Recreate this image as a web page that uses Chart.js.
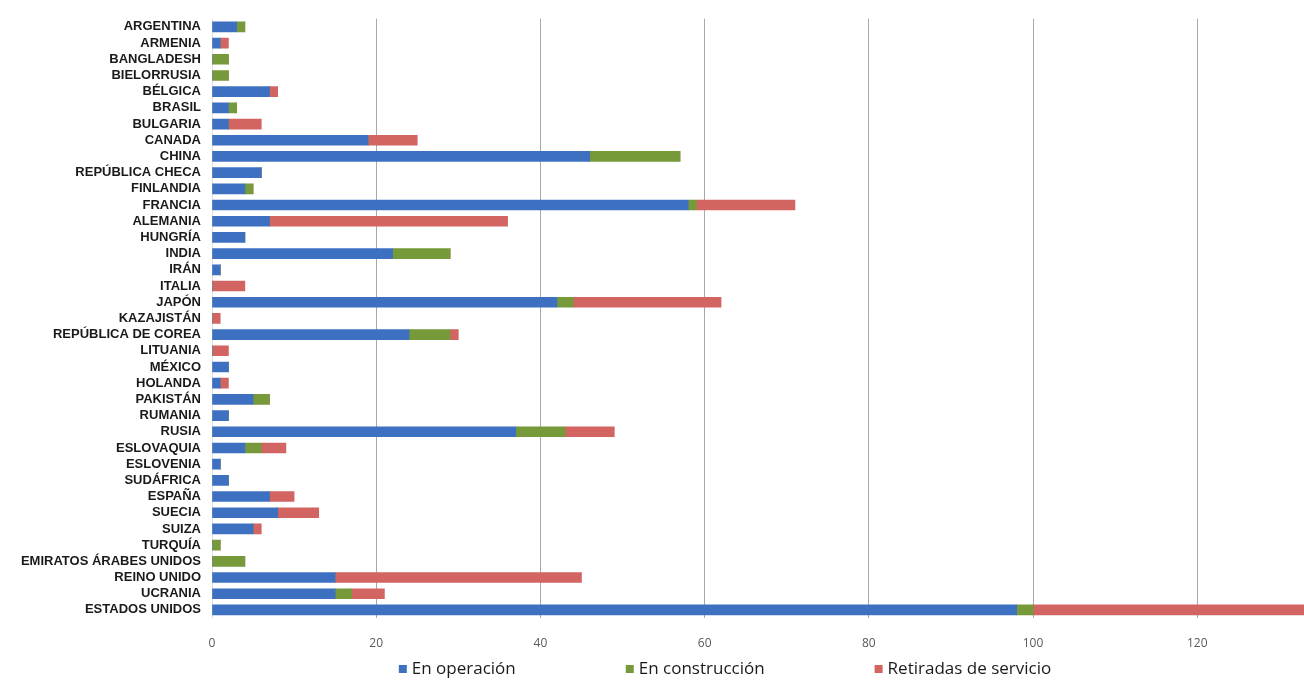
<!DOCTYPE html>
<html>
<head>
<meta charset="utf-8">
<script src="https://cdn.jsdelivr.net/npm/chart.js@4"></script>
<style>
  html, body { margin: 0; padding: 0; background: #fff; }
  #wrap { width: 1304px; height: 681px; }
</style>
</head>
<body>
<div id="wrap"><canvas id="reactores"></canvas></div>
<script>
const paises = [
  "ARGENTINA", "ARMENIA", "BANGLADESH", "BIELORRUSIA", "BÉLGICA", "BRASIL",
  "BULGARIA", "CANADA", "CHINA", "REPÚBLICA CHECA", "FINLANDIA", "FRANCIA",
  "ALEMANIA", "HUNGRÍA", "INDIA", "IRÁN", "ITALIA", "JAPÓN", "KAZAJISTÁN",
  "REPÚBLICA DE COREA", "LITUANIA", "MÉXICO", "HOLANDA", "PAKISTÁN", "RUMANIA",
  "RUSIA", "ESLOVAQUIA", "ESLOVENIA", "SUDÁFRICA", "ESPAÑA", "SUECIA", "SUIZA",
  "TURQUÍA", "EMIRATOS ÁRABES UNIDOS", "REINO UNIDO", "UCRANIA", "ESTADOS UNIDOS",
];

const enOperacion = [
  3, 1, 0, 0, 7, 2, 2, 19, 46, 6, 4, 58, 7, 4, 22, 1, 0, 42, 0,
  24, 0, 2, 1, 5, 2, 37, 4, 1, 2, 7, 8, 5, 0, 0, 15, 15, 98,
];

const enConstruccion = [
  1, 0, 2, 2, 0, 1, 0, 0, 11, 0, 1, 1, 0, 0, 7, 0, 0, 2, 0,
  5, 0, 0, 0, 2, 0, 6, 2, 0, 0, 0, 0, 0, 1, 4, 0, 2, 2,
];

const retiradas = [
  0, 1, 0, 0, 1, 0, 4, 6, 0, 0, 0, 12, 29, 0, 0, 0, 4, 18, 1,
  1, 2, 0, 1, 0, 0, 6, 3, 0, 0, 3, 5, 1, 0, 0, 30, 4, 34,
];

const ejeX = [0, 20, 40, 60, 80, 100, 120];

// legend drawn under the axis, same look as the spreadsheet one
const leyendaAbajo = {
  id: "leyendaAbajo",
  afterDraw(chart) {
    const ctx = chart.ctx;
    const sets = chart.data.datasets;
    const box = 8;
    const gapText = 5;
    const gapItem = 110;

    ctx.save();
    ctx.font = '17px "Open Sans"';
    ctx.textBaseline = "middle";
    const widths = sets.map(
      (d) => box + gapText + ctx.measureText(d.label).width
    );
    const total =
      widths.reduce((a, b) => a + b, 0) + gapItem * (sets.length - 1);
    let x = 725 - total / 2;
    const y = chart.height - 12;

    sets.forEach((d, i) => {
      ctx.fillStyle = d.backgroundColor;
      ctx.fillRect(x, y - box / 2, box, box);
      ctx.fillStyle = "#1a1a1a";
      ctx.fillText(d.label, x + box + gapText, y);
      x += widths[i] + gapItem;
    });
    ctx.restore();
  },
};

const ctx = document.getElementById("reactores").getContext("2d");

new Chart(ctx, {
  type: "bar",
  data: {
    labels: paises,
    datasets: [
      {
        label: "En operación",
        data: enOperacion,
        backgroundColor: "#3e70c2",
      },
      {
        label: "En construcción",
        data: enConstruccion,
        backgroundColor: "#76993a",
      },
      {
        label: "Retiradas de servicio",
        data: retiradas,
        backgroundColor: "#d26462",
      },
    ],
  },
  options: {
    indexAxis: "y",
    responsive: true,
    maintainAspectRatio: false,
    animation: false,
    barThickness: 10,
    layout: {
      padding: { top: 18, right: 0, bottom: 30, left: 0 },
    },
    plugins: {
      legend: { display: false },
      tooltip: { enabled: false },
    },
    scales: {
      x: {
        stacked: true,
        min: 0,
        max: 133,
        afterBuildTicks: (scale) => {
          scale.ticks = ejeX.map((v) => ({ value: v }));
        },
        afterFit: (scale) => {
          scale.height = 33;
        },
        ticks: {
          padding: 18,
          color: "#595959",
          font: { family: '"Open Sans"', size: 12 },
        },
        grid: {
          drawTicks: false,
          color: (c) => (c.tick && c.tick.value === 0 ? "#dedede" : "#a8a8a8"),
          lineWidth: 1,
        },
        border: { display: false },
      },
      y: {
        stacked: true,
        afterFit: (scale) => {
          scale.width = 212;
        },
        ticks: {
          autoSkip: false,
          padding: 11,
          color: "#1a1a1a",
          font: { family: '"Liberation Sans"', size: 13, weight: "bold" },
        },
        grid: { display: false, drawTicks: false },
        border: { display: false },
      },
    },
  },
  plugins: [leyendaAbajo],
});
</script>
</body>
</html>
